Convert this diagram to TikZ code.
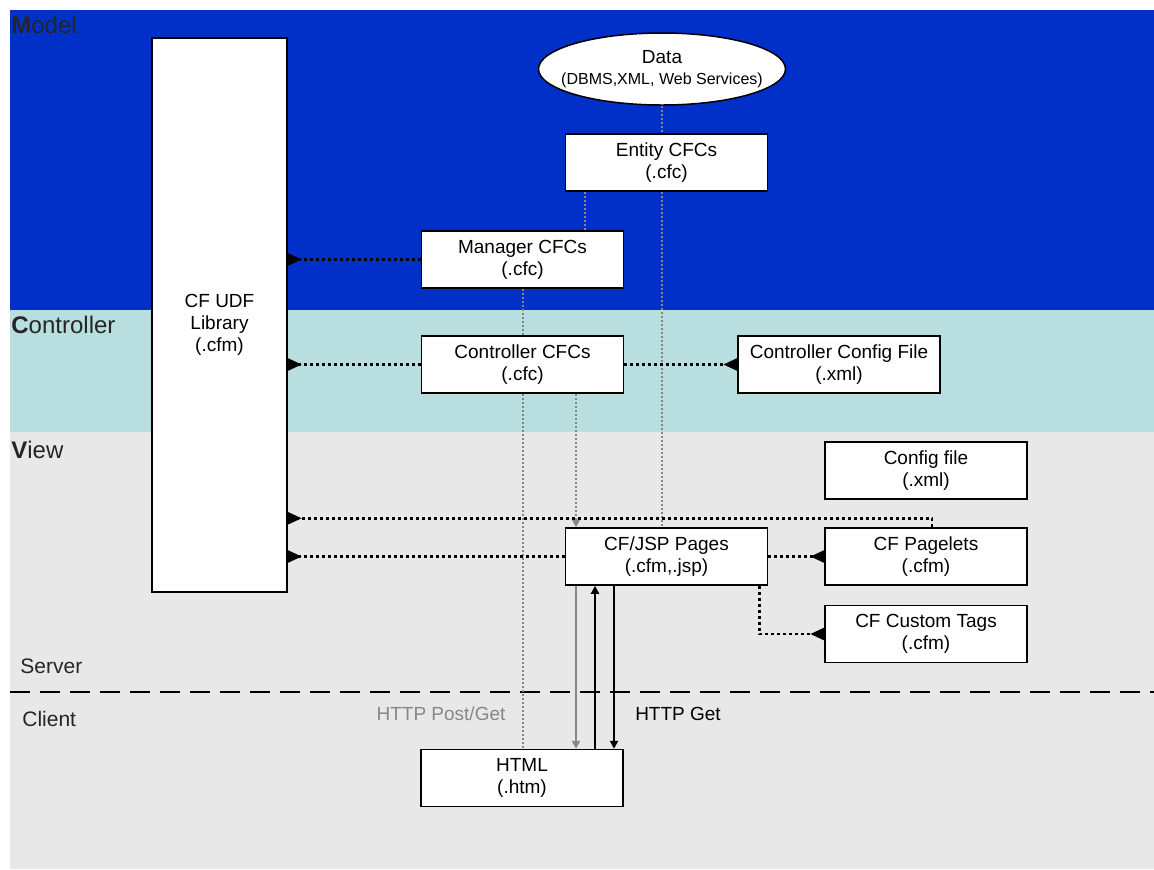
\documentclass[tikz,border=0pt]{standalone}
\usepackage{fontspec}
\setmainfont{Liberation Sans}
\usetikzlibrary{arrows.meta,shapes.geometric}
\newlength{\BoxWidth}
\newlength{\BoxHeight}
\setlength{\BoxWidth}{101pt}
\setlength{\BoxHeight}{28.5pt}
\definecolor{modelblue}{RGB}{0,48,200}
\definecolor{ctrlcyan}{RGB}{184,222,224}
\definecolor{viewgrey}{RGB}{232,232,232}
\definecolor{linkgrey}{RGB}{135,135,135}
\tikzset{
  cf box/.style={draw, fill=white, line width=0.75pt, minimum width=\BoxWidth,
    minimum height=\BoxHeight, inner sep=0pt, align=center,
    font=\fontsize{9.5}{11}\selectfont},
  cf text/.style={inner sep=0pt, align=center, font=\fontsize{9.5}{11}\selectfont},
  layer label/.style={anchor=base west, inner sep=0pt, text=black!85,
    font=\fontsize{12}{14}\selectfont},
  uses/.style={line width=1.4pt, dash pattern=on 1.5pt off 1.5pt,
    -{Triangle[reversed, length=7pt, width=6pt]}},
  feeds/.style={draw=linkgrey, line width=1pt, dash pattern=on 1pt off 1pt},
  http/.style={line width=1.2pt, -{Triangle[length=4pt, width=4pt]}},
}

\begin{document}
\begin{tikzpicture}[x=0.5pt, y=-0.5pt]
  \useasboundingbox (0,0) rectangle (1154,869);
  % tiers
  \fill[modelblue] (10,10) rectangle (1154,310);
  \fill[ctrlcyan] (10,310) rectangle (1154,432);
  \fill[viewgrey] (10,432) rectangle (1154,869);
  \node[layer label] (model) at (11,33) {\textbf{M}odel};
  \node[layer label] (controller) at (11,333) {\textbf{C}ontroller};
  \node[layer label] (view) at (11,458) {\textbf{V}iew};
  \node[layer label, font=\fontsize{10.5}{12}\selectfont] (server) at (20,673) {Server};
  \node[layer label, font=\fontsize{10.5}{12}\selectfont] (client) at (22,726) {Client};
  \draw[line width=1pt, dash pattern=on 10pt off 5pt] (10,692) -- (1154,692);

  % components
  \node[cf box, minimum width=67.5pt, minimum height=277pt,
    label={[cf text, yshift=-5pt]center:CF UDF\\Library\\(.cfm)}] (udf) at (219.5,315) {};
  \node[draw, fill=white, ellipse, line width=0.75pt, minimum width=123.5pt,
    minimum height=36pt, inner xsep=-7pt, inner ysep=0pt, align=center,
    font=\fontsize{9.5}{10.5}\selectfont] (data) at (662,69)
    {Data\\{\fontsize{8}{10}\selectfont (DBMS,XML, Web Services)}};
  \node[cf box] (entity) at (666.5,162.5) {Entity CFCs\\(.cfc)};
  \node[cf box] (mgr) at (522.5,259.5) {Manager CFCs\\(.cfc)};
  \node[cf box] (ctl) at (522.5,364.5) {Controller CFCs\\(.cfc)};
  \node[cf box] (ctlcfg) at (839,364.5) {Controller Config File\\(.xml)};
  \node[cf box] (cfg) at (926,470.5) {Config file\\(.xml)};
  \node[cf box] (jsp) at (666.5,556.5) {CF/JSP Pages\\(.cfm,.jsp)};
  \node[cf box] (pagelets) at (926,556.5) {CF Pagelets\\(.cfm)};
  \node[cf box] (tags) at (926,634) {CF Custom Tags\\(.cfm)};
  \node[cf box] (html) at (522,778) {HTML\\(.htm)};

  % grey links
  \coordinate (mgrfeed) at ([xshift=-40.75pt]entity.south);
  \coordinate (ctlfeed) at ([xshift=26.75pt]ctl.south);
  \draw[feeds] (data.south) -- (data.south |- entity.north);
  \draw[feeds] (entity.south -| data.south) -- (data.south |- jsp.north);
  \draw[feeds] (mgrfeed) -- (mgrfeed |- mgr.north);
  \draw[feeds] (mgr.south) -- (ctl.north);
  \draw[feeds] (ctl.south) -- (ctl.south |- html.north);
  \draw[feeds, -{Triangle[length=4pt, width=4pt]}] (ctlfeed) -- (ctlfeed |- jsp.north);

  % black dotted links
  \draw[uses] (mgr.west) -- (mgr.west -| udf.east);
  \draw[uses] (ctl.west) -- (ctl.west -| udf.east);
  \draw[uses] (ctl.east) -- (ctlcfg.west);
  \draw[uses] (jsp.west) -- (jsp.west -| udf.east);
  \draw[uses] (jsp.east) -- (pagelets.west);
  \coordinate (pgltop) at ([xshift=3pt]pagelets.north);
  \coordinate (pglturn) at ([yshift=4.5pt]pagelets.north);
  \draw[uses] (pgltop) |- (pglturn -| udf.east);
  \draw[uses] ([xshift=-4.5pt]jsp.south east) |- (tags.west);

  % http requests
  \coordinate (post) at ([xshift=27pt]html.north);
  \coordinate (reply) at ([xshift=36.5pt]html.north);
  \coordinate (get) at ([xshift=46pt]html.north);
  \draw[http, draw=linkgrey] (post |- jsp.south) -- (post);
  \draw[http] (reply) -- (reply |- jsp.south);
  \draw[http] (get |- jsp.south) -- (get);
  \node[text=linkgrey, font=\fontsize{9.5}{11}\selectfont] (postlabel) at (441,714) {HTTP Post/Get};
  \node[font=\fontsize{9.5}{11}\selectfont] (getlabel) at (678,714) {HTTP Get};
\end{tikzpicture}
\end{document}
